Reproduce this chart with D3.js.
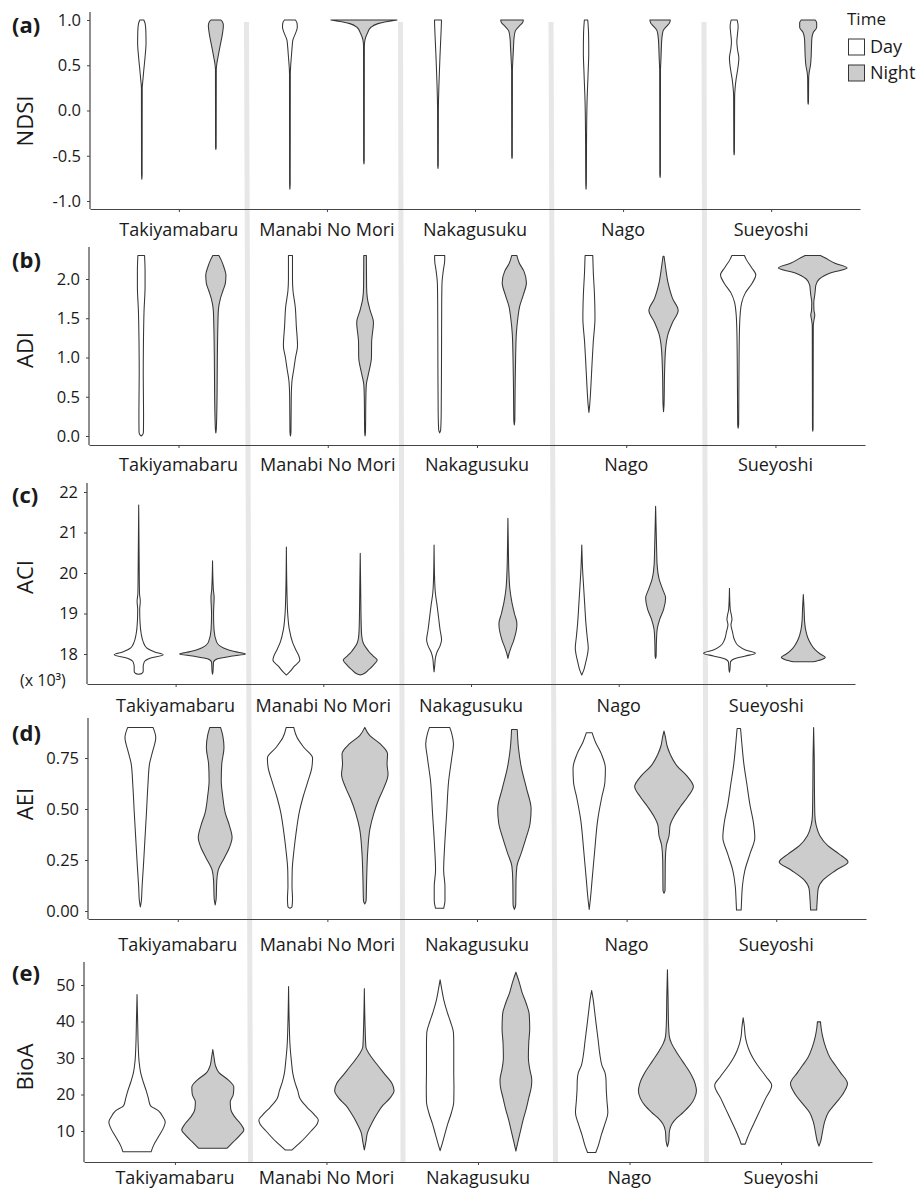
<!DOCTYPE html>
<html><head><meta charset="utf-8">
<script src="https://cdn.jsdelivr.net/npm/d3@7"></script>
<style>
body{margin:0;background:#fff}
svg{display:block}
text{font-family:"Open Sans",sans-serif;fill:#1a1a1a}
</style>
</head><body>
<svg id="chart" width="921" height="1191"></svg>
<script>
// ---------- categories ----------
const sites = ["Takiyamabaru", "Manabi No Mori", "Nakagusuku", "Nago", "Sueyoshi"];
const times = ["Day", "Night"];
const indexNames = ["NDSI", "ADI", "ACI", "AEI", "BioA"];
const panelLetters = ["(a)", "(b)", "(c)", "(d)", "(e)"];

// ---------- tick values / labels ----------
const ndsiTicks = [-1.0, -0.5, 0.0, 0.5, 1.0];
const ndsiTickLabels = ["-1.0", "-0.5", "0.0", "0.5", "1.0"];
const adiTicks = [0.0, 0.5, 1.0, 1.5, 2.0];
const adiTickLabels = ["0.0", "0.5", "1.0", "1.5", "2.0"];
const aciTicks = [18, 19, 20, 21, 22];
const aciTickLabels = ["18", "19", "20", "21", "22"];
const aeiTicks = [0.00, 0.25, 0.50, 0.75];
const aeiTickLabels = ["0.00", "0.25", "0.50", "0.75"];
const bioaTicks = [10, 20, 30, 40, 50];
const bioaTickLabels = ["10", "20", "30", "40", "50"];

// ---------- violin profiles: [value, relative density] per site ----------
const ndsiDay = [
  [[-0.76,0],[-0.7,0.3],[0.25,0.4],[0.33,1],[0.45,2],[0.6,3.3],[0.75,4.2],[0.88,4],[0.96,3.3],[1.0,2]],
  [[-0.87,0],[-0.8,0.3],[0.4,0.4],[0.5,0.8],[0.6,1.5],[0.7,2.2],[0.78,3],[0.85,5.5],[0.92,7.4],[0.97,7],[1.0,5.5]],
  [[-0.64,0],[-0.6,0.3],[0.0,0.4],[0.3,1],[0.6,2],[0.9,3.2],[1.0,3.5]],
  [[-0.87,0],[-0.8,0.3],[-0.3,0.5],[0.1,1],[0.4,2],[0.65,2.7],[0.85,2.5],[1.0,1.7]],
  [[-0.49,0],[-0.45,0.3],[0.15,0.5],[0.25,1],[0.35,2],[0.45,3.5],[0.58,4.7],[0.68,3.3],[0.76,2.7],[0.86,3.5],[0.93,4],[1.0,3]]
];
const ndsiNight = [
  [[-0.43,0],[-0.4,0.3],[0.45,0.4],[0.52,1],[0.6,2.3],[0.7,4],[0.8,5.8],[0.88,7],[0.94,7.5],[0.98,6.5],[1.0,5]],
  [[-0.59,0],[-0.55,0.3],[0.7,0.4],[0.78,1],[0.85,3.3],[0.92,7],[0.96,14],[0.98,22],[0.995,30],[1.0,33]],
  [[-0.53,0],[-0.5,0.3],[0.45,0.4],[0.55,0.8],[0.7,1.5],[0.8,2],[0.88,3.3],[0.93,7],[0.97,10.5],[1.0,11.3]],
  [[-0.74,0],[-0.7,0.3],[0.45,0.4],[0.55,0.8],[0.7,1.3],[0.8,1.8],[0.88,3],[0.93,6.5],[0.97,9.5],[1.0,10.2]],
  [[0.07,0],[0.1,0.3],[0.35,0.5],[0.42,1],[0.5,2.3],[0.6,3],[0.7,3.3],[0.8,3.7],[0.86,5],[0.92,8.5],[0.97,8.5],[1.0,7]]
];
const adiDay = [
  [[0.0,0],[0.02,1.5],[0.05,2.2],[0.3,2.3],[0.8,2],[1.2,2.2],[1.6,2.8],[1.9,3.8],[2.1,3.8],[2.3,3.3]],
  [[0.0,0],[0.05,0.5],[0.5,0.8],[0.7,1.5],[0.85,3.3],[1.0,5],[1.15,7],[1.4,5.8],[1.65,4.7],[1.85,2.5],[2.0,2],[2.3,2]],
  [[0.04,0],[0.08,1],[0.3,1.5],[1.0,1.8],[1.7,2],[1.95,2.3],[2.1,3.5],[2.25,5],[2.3,5]],
  [[0.3,0],[0.4,0.8],[0.6,1.8],[0.9,3],[1.2,4.3],[1.5,6],[1.8,5.5],[2.1,4.3],[2.3,3.8]],
  [[0.1,0],[0.15,0.5],[0.8,0.8],[1.3,1.2],[1.55,2],[1.7,3.5],[1.82,7],[1.95,14],[2.05,17.5],[2.15,13],[2.25,8],[2.3,6.2]]
];
const adiNight = [
  [[0.04,0],[0.1,0.5],[0.5,1.2],[1.0,1.5],[1.4,2],[1.6,2.5],[1.75,4.5],[1.85,7],[1.95,9.5],[2.05,10],[2.15,8],[2.25,5],[2.3,3]],
  [[0.0,0],[0.05,0.4],[0.5,0.8],[0.65,1.2],[0.8,3.5],[1.0,6.3],[1.2,6.5],[1.45,8.3],[1.6,5],[1.75,2.3],[1.9,1.5],[2.3,1.3]],
  [[0.14,0],[0.2,0.5],[0.6,0.8],[1.0,1.3],[1.3,2],[1.5,3.5],[1.65,5.3],[1.8,9],[1.95,12],[2.1,9.5],[2.2,5],[2.3,2.5]],
  [[0.31,0],[0.4,0.5],[0.8,1],[1.1,2],[1.3,4.5],[1.45,9],[1.6,14.5],[1.75,9],[1.95,4.5],[2.15,2],[2.29,0.5]],
  [[0.06,0],[0.1,0.3],[1.4,0.5],[1.5,1.5],[1.54,2],[1.6,1.2],[1.7,1],[1.8,2],[1.86,2.5],[1.92,3],[2.0,6.5],[2.08,18],[2.14,34],[2.2,22],[2.27,12],[2.3,7.5]]
];
// ACI values in thousands (x 10^3)
const aciDay = [
  [[17.5,0],[17.52,3],[17.57,4.5],[17.68,4.5],[17.8,5.5],[17.9,12],[17.98,24.5],[18.05,16],[18.15,8],[18.3,4.5],[18.5,2.5],[18.8,1.3],[19.1,1],[19.3,1.6],[19.5,0.8],[20.5,0.4],[21.68,0]],
  [[17.48,0],[17.55,3],[17.7,8],[17.85,13.5],[17.95,12.5],[18.1,9.5],[18.3,6],[18.6,3],[19.0,1.3],[19.5,0.6],[20.64,0]],
  [[17.56,0],[17.7,0.6],[17.9,1.3],[18.05,3],[18.2,6],[18.35,7.5],[18.6,6],[18.9,4.5],[19.2,3],[19.5,1.3],[19.8,0.6],[20.69,0]],
  [[17.48,0],[17.6,2],[17.8,4],[18.0,5.8],[18.15,6.5],[18.4,5.5],[18.8,4],[19.2,3],[19.6,2],[20.0,1],[20.69,0]],
  [[17.55,0],[17.6,0.4],[17.8,1],[17.88,5],[17.95,16],[18.02,26],[18.1,16],[18.2,9],[18.35,5],[18.55,3],[18.72,1.5],[18.85,2.5],[18.95,2],[19.1,0.8],[19.62,0]]
];
const aciNight = [
  [[17.5,0],[17.55,0.4],[17.8,1],[17.88,5],[17.95,20],[18.0,33],[18.06,22],[18.15,11],[18.3,4],[18.6,1.5],[19.0,1],[19.4,1.6],[19.6,0.8],[20.3,0]],
  [[17.48,0],[17.5,2.5],[17.6,8],[17.72,13],[17.85,17],[17.95,13],[18.05,9],[18.15,6],[18.27,3],[18.45,1.5],[18.7,1],[19.5,0.5],[20.49,0]],
  [[17.89,0],[18.0,1],[18.15,3],[18.35,6],[18.6,8.5],[18.75,9],[19.0,6.5],[19.3,3.8],[19.6,2],[20.0,1],[20.5,0.5],[21.35,0]],
  [[17.89,0],[17.95,0.5],[18.3,0.8],[18.6,1.5],[18.85,4],[19.1,8],[19.38,10],[19.6,7],[19.85,3.5],[20.2,1.5],[20.6,1],[21.0,0.6],[21.65,0]],
  [[17.81,10],[17.86,18],[17.92,22],[18.0,17],[18.1,12],[18.25,7.5],[18.4,4.5],[18.6,2.3],[18.8,1.3],[19.1,0.8],[19.47,0]]
];
const aeiDay = [
  [[0.02,0],[0.05,1],[0.12,1.7],[0.22,3],[0.35,4.5],[0.48,6],[0.62,7.5],[0.72,9],[0.78,12],[0.85,15.2],[0.9,12.5]],
  [[0.013,0],[0.02,2],[0.06,2.5],[0.12,2],[0.2,2.2],[0.3,4],[0.4,6.5],[0.48,9],[0.56,13],[0.64,18],[0.7,21.5],[0.75,22.3],[0.8,14],[0.85,7],[0.9,3.7]],
  [[0.013,4],[0.05,5.3],[0.12,5.3],[0.2,4],[0.32,5],[0.48,7],[0.64,9],[0.75,12],[0.82,13.7],[0.87,12],[0.9,10]],
  [[0.008,0],[0.05,1],[0.15,2.8],[0.3,5.5],[0.45,8.5],[0.56,12.5],[0.63,15.5],[0.7,16],[0.77,12],[0.83,6],[0.874,2.8]],
  [[0.005,2.3],[0.05,2.7],[0.12,3.5],[0.2,6],[0.28,11],[0.36,15.8],[0.43,14.5],[0.52,11],[0.62,8],[0.72,5],[0.82,3],[0.895,1.7]]
];
const aeiNight = [
  [[0.03,0],[0.06,1],[0.15,1.6],[0.2,3],[0.26,9],[0.31,14],[0.36,16.7],[0.42,14],[0.48,10],[0.56,7.5],[0.64,6],[0.72,6.5],[0.8,8.7],[0.86,7.5],[0.9,5.3]],
  [[0.034,0],[0.05,1.3],[0.15,1.8],[0.3,3],[0.4,5],[0.48,9],[0.55,14],[0.6,18.5],[0.67,23],[0.72,22],[0.77,22.5],[0.82,15],[0.86,5],[0.9,0]],
  [[0.008,0],[0.03,1.3],[0.15,1.6],[0.22,2.5],[0.28,6.5],[0.35,11],[0.43,15.5],[0.5,16.5],[0.6,12],[0.7,7],[0.8,4],[0.89,2.8]],
  [[0.087,0],[0.1,1],[0.25,1.3],[0.32,2.3],[0.37,5],[0.42,6],[0.46,9.5],[0.51,16],[0.56,23.5],[0.61,29],[0.66,23],[0.71,13],[0.77,6],[0.81,3],[0.85,1.5],[0.882,0]],
  [[0.005,3],[0.05,3.5],[0.11,4.5],[0.15,9],[0.2,22],[0.24,34],[0.28,25],[0.32,14],[0.37,6],[0.42,2.5],[0.47,1.2],[0.6,0.8],[0.75,0.6],[0.899,0]]
];
const bioaDay = [
  [[4.3,13.7],[6,16],[8.5,21],[11,26],[12.5,27.5],[14,25],[15.5,21],[17,13],[19,11],[21,9],[23.5,6],[26,3.5],[29,2],[33,1.2],[40,0.6],[47.4,0]],
  [[4.8,3.3],[7,12],[10,22],[12,28],[13,29],[14.5,25],[16.5,18],[19,11],[21,9],[23.5,6],[26,4],[29,2.8],[33,1.5],[40,0.6],[49.6,0]],
  [[4.6,0],[6.5,2],[9,4.5],[12,7.5],[15,11],[18,13.3],[22,13.5],[26,13.3],[30,13.3],[34,13.3],[37,13],[40,10],[42.5,7],[46,3.5],[49,1.5],[51.4,0]],
  [[4.1,4],[6,6.5],[9,9.5],[12,13],[15,15.8],[18,15],[21,14.3],[24,14],[26,13],[28,10],[31,8],[35,6.3],[39,4.5],[43,2.8],[46,1.5],[48.5,0]],
  [[6.4,2],[8,4],[10,7],[13,12],[16,17],[19,22],[22.5,27.8],[25,22],[28,14],[30,9.5],[32,6],[34,3.5],[36,2],[38.5,1.2],[41,0]]
];
const bioaNight = [
  [[5.3,14],[7,20],[9,27],[10.3,30.3],[12,27],[14,21],[16,17.5],[18,17],[20,20],[22,20.5],[24,15],[26,6],[28,2.5],[30,1.3],[32.3,0]],
  [[4.8,0],[7,1.5],[9.5,3],[12,7],[14.5,12],[17,18],[19,25],[21,29],[23,27],[25.5,20],[28,13],[31,5],[33,1.5],[38,0.8],[49,0]],
  [[4.5,0],[7,2],[10,4.5],[13,7],[16,10],[19,12.5],[22,15],[24,15.5],[27,13.5],[30,12.2],[34,12.5],[38,13.5],[42,13],[45,10],[48,6],[51,3],[53.5,0]],
  [[5.7,0],[7,1.2],[10,2],[12,4.5],[13.5,9],[15,15],[17,22],[19,26.5],[21,28.3],[23,27],[26,22],[29,15],[32,8],[34,4],[36,1.8],[40,1],[47,0.6],[54.2,0]],
  [[5.9,0],[7,1.5],[9.5,3.3],[12.5,5.5],[15,9],[17.5,16],[20,23],[23,27.8],[26,21],[28,16],[30,11],[33,6.5],[36,3.5],[38.5,2],[39.9,1.5]]
];

// ---------- assemble ----------
const panelData = [
  {day: ndsiDay, night: ndsiNight, ticks: ndsiTicks, labels: ndsiTickLabels},
  {day: adiDay,  night: adiNight,  ticks: adiTicks,  labels: adiTickLabels},
  {day: aciDay,  night: aciNight,  ticks: aciTicks,  labels: aciTickLabels},
  {day: aeiDay,  night: aeiNight,  ticks: aeiTicks,  labels: aeiTickLabels},
  {day: bioaDay, night: bioaNight, ticks: bioaTicks, labels: bioaTickLabels}
];

// layout (pixels)
const layout = [
  {left: 90, right: 860, top: 12,  axisY: 209,  yRange: [201, 20],   labelBase: 236,  letterBase: 33,  titleY: 121},
  {left: 89, right: 865, top: 247, axisY: 445,  yRange: [436, 279],  labelBase: 471,  letterBase: 268, titleY: 350},
  {left: 87, right: 855, top: 483, axisY: 684,  yRange: [654, 492],  labelBase: 712,  letterBase: 503, titleY: 577},
  {left: 88, right: 866, top: 718, axisY: 919,  yRange: [911, 758],  labelBase: 951,  letterBase: 741, titleY: 804},
  {left: 84, right: 872, top: 962, axisY: 1162, yRange: [1131, 985], labelBase: 1184, letterBase: 981, titleY: 1067}
];

const fills = {Day: "#ffffff", Night: "#cbcccb"};
const strokeCol = "#353535";
const svg = d3.select("#chart");

// separators (background)
const sepG = svg.append("g");
[[246.5, 250.5], [400.5, 403], [551, 555.5], [704, 706.5]].forEach(([xt, xb]) => {
  sepG.append("line").attr("x1", xt).attr("y1", 22).attr("x2", xb).attr("y2", 1162)
    .attr("stroke", "#e7e7e7").attr("stroke-width", 5);
});

panelData.forEach((pd, pi) => {
  const L = layout[pi];
  const g = svg.append("g");
  const x = d3.scalePoint().domain(sites).range([L.left, L.right]).padding(0.6);
  const step = x.step();
  const xt = d3.scalePoint().domain(times).range([-step * 0.25, step * 0.25]);
  const y = d3.scaleLinear().domain([pd.ticks[0], pd.ticks[pd.ticks.length - 1]]).range(L.yRange);
  const w = d3.scaleLinear().domain([0, 34]).range([0, step * 0.23]);

  // violins
  times.forEach(t => {
    const profs = t === "Day" ? pd.day : pd.night;
    profs.forEach((prof, si) => {
      const cx = x(sites[si]) + xt(t);
      const area = d3.area().curve(d3.curveMonotoneY)
        .y(d => y(d[0])).x0(d => cx - w(d[1])).x1(d => cx + w(d[1]));
      g.append("path").attr("d", area(prof))
        .attr("fill", fills[t]).attr("stroke", strokeCol).attr("stroke-width", 1.05)
        .attr("stroke-linejoin", "round");
    });
  });

  // y axis
  const yAxis = d3.axisLeft(y).tickValues(pd.ticks).tickFormat((d, i) => pd.labels[i])
    .tickSize(3).tickPadding(6);
  const ya = g.append("g").attr("transform", `translate(${L.left},0)`).call(yAxis);
  ya.select(".domain").remove();
  ya.selectAll(".tick line").attr("stroke", "#444");
  ya.selectAll(".tick text").style("font-size", "16.5px").attr("fill", "#1a1a1a")
    .style("font-family", '"Open Sans",sans-serif');
  g.append("line").attr("x1", L.left).attr("x2", L.left).attr("y1", L.top).attr("y2", L.axisY)
    .attr("stroke", "#444").attr("stroke-width", 1.2);

  // x axis
  const xAxis = d3.axisBottom(x).tickSize(3).tickSizeOuter(0).tickFormat("");
  const xa = g.append("g").attr("transform", `translate(0,${L.axisY})`).call(xAxis);
  xa.select(".domain").attr("stroke", "#444").attr("stroke-width", 1.2);
  xa.selectAll(".tick line").attr("stroke", "#444");
  g.selectAll("text.site").data(sites).join("text").attr("class", "site")
    .attr("x", d => x(d)).attr("y", L.labelBase).attr("text-anchor", "middle")
    .style("font-size", "18px").text(d => d);

  // titles
  g.append("text").attr("transform", `translate(33,${L.titleY}) rotate(-90)`)
    .attr("text-anchor", "middle").style("font-size", "22px").text(indexNames[pi]);
  g.append("text").attr("x", 12).attr("y", L.letterBase)
    .style("font-size", "22px").style("font-weight", "bold").text(panelLetters[pi]);
});

// ACI multiplier label
svg.append("text").attr("x", 20).attr("y", 686).style("font-size", "16px").text("(x 10³)");

// legend
const lg = svg.append("g");
lg.append("text").attr("x", 847).attr("y", 25).style("font-size", "17px").text("Time");
times.forEach((t, i) => {
  const yy = 39 + i * 26;
  lg.append("rect").attr("x", 848.5).attr("y", yy).attr("width", 16).attr("height", 16)
    .attr("fill", fills[t]).attr("stroke", strokeCol).attr("stroke-width", 1);
  lg.append("text").attr("x", 870).attr("y", yy + 14).style("font-size", "18px").text(t);
});
</script>
</body></html>
